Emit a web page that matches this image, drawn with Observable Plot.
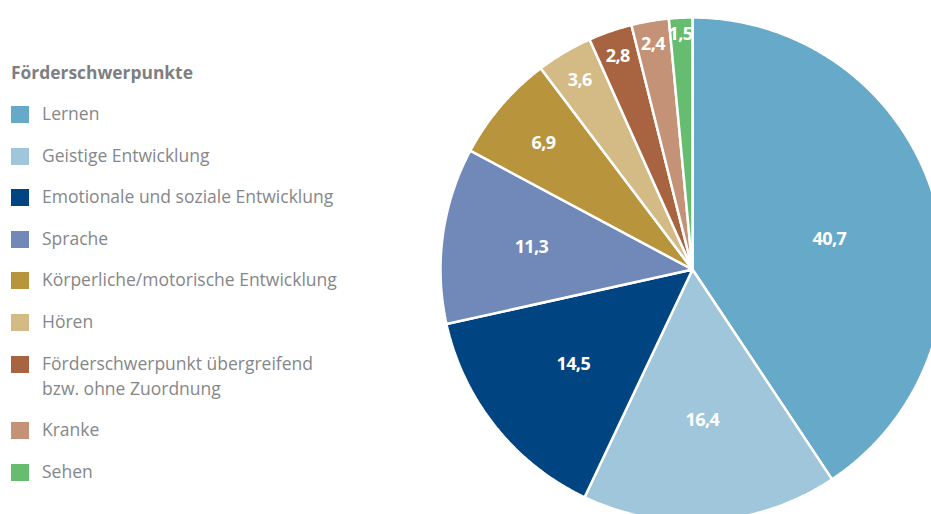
<!DOCTYPE html>
<html>
<head>
<meta charset="utf-8">
<script src="https://cdn.jsdelivr.net/npm/d3@7"></script>
<script src="https://cdn.jsdelivr.net/npm/@observablehq/plot@0.6"></script>
<style>
  html, body { margin: 0; padding: 0; background: #fff; overflow: hidden; }
  #wrap { position: relative; width: 931px; height: 514px; }
  #legend { position: absolute; left: 11px; top: 0; font-family: "Open Sans", sans-serif; color: #85878a; }
  #legend .title { position: absolute; left: 0; top: 60px; font-weight: bold; font-size: 17.4px; white-space: nowrap; color: #7d7f82; }
  #legend .item { position: absolute; left: 0; white-space: nowrap; font-size: 17.5px; line-height: 25px; }
  #legend .sw { position: absolute; left: 0; width: 18px; height: 17px; }
  #legend .lbl { position: absolute; left: 31px; top: 0; }
  #chart { position: absolute; left: 0; top: 0; }
</style>
</head>
<body>
<div id="wrap">
  <div id="chart"></div>
  <div id="legend"></div>
</div>
<script>
const legendTitle = "Förderschwerpunkte";
const categories = [
  "Lernen",
  "Geistige Entwicklung",
  "Emotionale und soziale Entwicklung",
  "Sprache",
  "Körperliche/motorische Entwicklung",
  "Hören",
  "Förderschwerpunkt übergreifend bzw. ohne Zuordnung",
  "Kranke",
  "Sehen"
];
const legendLines = [
  ["Lernen"],
  ["Geistige Entwicklung"],
  ["Emotionale und soziale Entwicklung"],
  ["Sprache"],
  ["Körperliche/motorische Entwicklung"],
  ["Hören"],
  ["Förderschwerpunkt übergreifend", "bzw. ohne Zuordnung"],
  ["Kranke"],
  ["Sehen"]
];
const values = [40.7, 16.4, 14.5, 11.3, 6.9, 3.6, 2.8, 2.4, 1.5];
const colors = ["#67a9c9", "#a0c6dc", "#004482", "#7189b8", "#b8953d", "#d4bb86", "#a86340", "#c49276", "#66bd6f"];

const total = d3.sum(values);
const fmt = v => v.toLocaleString("de-DE", {minimumFractionDigits: 1, maximumFractionDigits: 1});

// Build slice polygons (angle measured clockwise from 12 o'clock)
const pts = [];
const labels = [];
let acc = 0;
values.forEach((v, i) => {
  const a0 = acc / total * 2 * Math.PI;
  acc += v;
  const a1 = acc / total * 2 * Math.PI;
  pts.push({cat: categories[i], x: 0, y: 0});
  const n = Math.max(4, Math.ceil((a1 - a0) / (Math.PI / 360)));
  for (let k = 0; k <= n; k++) {
    const a = a0 + (a1 - a0) * k / n;
    pts.push({cat: categories[i], x: Math.sin(a), y: Math.cos(a)});
  }
  // label placement: large slices slightly lower toward the slice centroid
  const am = (a0 + a1) / 2 + (v > 30 ? 0.08 : 0);
  const rf = Math.max(0.6, 0.98 - 0.03 * v) - (v > 30 ? 0.04 : 0);
  labels.push({text: fmt(v), x: rf * Math.sin(am), y: rf * Math.cos(am)});
});

const chart = Plot.plot({
  width: 931,
  height: 514,
  margin: 0,
  style: {overflow: "hidden", background: "transparent"},
  x: {domain: [-1, 1], range: [440, 944], axis: null},
  y: {domain: [-1, 1], range: [521, 17], axis: null},
  color: {domain: categories, range: colors},
  marks: [
    Plot.line(pts, {x: "x", y: "y", z: "cat", fill: "cat", stroke: "white", strokeWidth: 2.5, strokeLinejoin: "miter", curve: "linear-closed"}),
    Plot.text(labels, {x: "x", y: "y", text: "text", fill: "white", fontWeight: "bold", fontSize: 18, fontFamily: "Open Sans, sans-serif", style: "letter-spacing:-0.6px", dx: -1})
  ]
});
chart.querySelectorAll("text").forEach(el => el.style.letterSpacing = "-0.6px");
document.getElementById("chart").appendChild(chart);

// Legend
const legend = document.getElementById("legend");
const t = document.createElement("div");
t.className = "title";
t.textContent = legendTitle;
legend.appendChild(t);
let yPos = 101;
legendLines.forEach((lines, i) => {
  const it = document.createElement("div");
  it.className = "item";
  it.style.top = yPos + "px";
  const sw = document.createElement("div");
  sw.className = "sw";
  sw.style.top = "5px";
  sw.style.background = colors[i];
  it.appendChild(sw);
  const lb = document.createElement("div");
  lb.className = "lbl";
  lb.innerHTML = lines.join("<br>");
  it.appendChild(lb);
  legend.appendChild(it);
  yPos += 41.6 + (lines.length - 1) * 25;
});
</script>
</body>
</html>
